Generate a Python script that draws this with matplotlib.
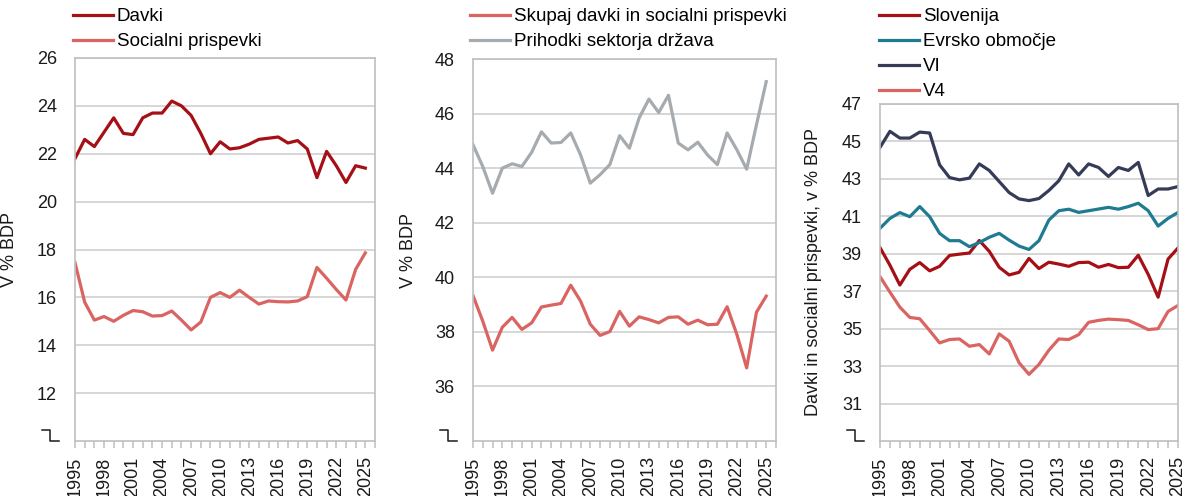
import matplotlib
matplotlib.use("Agg")
import matplotlib.pyplot as plt
from matplotlib.transforms import ScaledTranslation

plt.rcParams['font.family'] = ['Liberation Sans', 'DejaVu Sans']

# data
years = list(range(1995, 2026))

davki = [21.8, 22.6, 22.3, 22.9, 23.5, 22.85, 22.8, 23.5, 23.7, 23.7, 24.2,
         24.0, 23.6, 22.85, 22.0, 22.5, 22.2, 22.25, 22.4, 22.6, 22.65, 22.7,
         22.45, 22.55, 22.2, 21.0, 22.1, 21.5, 20.8, 21.5, 21.4]
socialni = [17.45, 15.8, 15.05, 15.2, 15.0, 15.25, 15.45, 15.4, 15.22, 15.24,
            15.43, 15.05, 14.64, 14.97, 16.0, 16.2, 16.0, 16.3, 16.0, 15.72,
            15.85, 15.82, 15.81, 15.85, 16.03, 17.25, 16.8, 16.33, 15.89,
            17.17, 17.86]

skupaj = [39.33, 38.39, 37.33, 38.17, 38.53, 38.09, 38.33, 38.91, 38.98, 39.04,
          39.71, 39.13, 38.28, 37.87, 38.01, 38.75, 38.21, 38.55, 38.45, 38.33,
          38.53, 38.55, 38.28, 38.43, 38.26, 38.28, 38.92, 37.9, 36.68, 38.72,
          39.31]
prihodki = [44.86, 44.06, 43.08, 44.0, 44.16, 44.06, 44.58, 45.33, 44.92,
            44.94, 45.29, 44.49, 43.45, 43.76, 44.13, 45.19, 44.73, 45.84,
            46.53, 46.04, 46.67, 44.92, 44.67, 44.95, 44.48, 44.13, 45.29,
            44.67, 43.96, 45.59, 47.17]

slovenija = skupaj
evrsko = [40.36, 40.89, 41.2, 40.98, 41.52, 40.98, 40.09, 39.7, 39.7, 39.38,
          39.6, 39.88, 40.09, 39.73, 39.41, 39.23, 39.7, 40.8, 41.3, 41.38,
          41.21, 41.3, 41.39, 41.48, 41.38, 41.52, 41.7, 41.3, 40.48, 40.89,
          41.21]
vi = [44.68, 45.54, 45.18, 45.18, 45.5, 45.45, 43.75, 43.07, 42.95, 43.04,
      43.8, 43.45, 42.86, 42.27, 41.93, 41.84, 41.95, 42.38, 42.9, 43.8, 43.21,
      43.8, 43.61, 43.13, 43.61, 43.45, 43.88, 42.11, 42.46, 42.46, 42.59]
v4 = [37.78, 36.95, 36.15, 35.6, 35.53, 34.9, 34.24, 34.42, 34.45, 34.06,
      34.15, 33.65, 34.72, 34.33, 33.18, 32.56, 33.09, 33.85, 34.45, 34.42,
      34.68, 35.34, 35.44, 35.51, 35.48, 35.44, 35.21, 34.95, 35.0, 35.92,
      36.24]

dark_red = '#A50F15'
light_red = '#DA6462'
grey = '#A6ABB0'
teal = '#1F7A92'
navy = '#363B57'
grid_col = '#D0D0D0'
txt = '#1a1a1a'

fig = plt.figure(figsize=(11.92, 4.96), dpi=100)
W, H = 1192, 496


def make_ax(left, right, top, bottom):
    return fig.add_axes([left / W, 1 - bottom / H, (right - left) / W, (bottom - top) / H])


def style(ax, ylim, yticks, xmax, ylabel):
    ax.set_ylim(*ylim)
    ax.set_yticks(yticks)
    ax.set_xlim(1995, xmax)
    xt = list(range(1995, xmax + 1))
    ax.set_xticks(xt)
    ax.set_xticklabels([str(y) if (y - 1995) % 3 == 0 else '' for y in xt],
                       rotation=90)
    ax.grid(axis='y', color=grid_col, lw=1.2)
    ax.set_axisbelow(True)
    for s in ax.spines.values():
        s.set_color('#BFBFBF')
        s.set_linewidth(1.2)
    ax.tick_params(axis='y', length=0, pad=13, labelsize=13, colors=txt)
    ax.tick_params(axis='x', length=5, width=1.1, color='#BFBFBF', pad=6,
                   labelsize=13, labelcolor=txt)
    ax.set_ylabel(ylabel, fontsize=13, color=txt)
    # axis break mark at the bottom of the value axis
    tr = fig.dpi_scale_trans + ScaledTranslation(0, 0, ax.transAxes)
    ax.plot([-0.33, -0.25, -0.25, -0.16], [0.11, 0.11, 0.0, 0.0],
            transform=tr, color=txt, lw=1.1, clip_on=False)


def legend(ax, x):
    ax.legend(loc='upper left', bbox_to_anchor=(x / W, 1 - 8 / H),
              bbox_transform=fig.transFigure, frameon=False, fontsize=13.5,
              handlelength=2.15, handletextpad=0.18, labelspacing=0.42,
              borderpad=0, borderaxespad=0)


# panel 1
ax1 = make_ax(75, 375, 58, 441)
ax1.plot(years, davki, color=dark_red, lw=2.3, label='Davki')
ax1.plot(years, socialni, color=light_red, lw=2.3, label='Socialni prispevki')
style(ax1, (10, 26), range(12, 27, 2), 2026, 'V % BDP')
ax1.yaxis.set_label_coords(-0.19, 0.5)
legend(ax1, 73)

# panel 2
ax2 = make_ax(473, 776, 59, 441)
ax2.plot(years, skupaj, color=light_red, lw=2.3, label='Skupaj davki in socialni prispevki')
ax2.plot(years, prihodki, color=grey, lw=2.3, label='Prihodki sektorja država')
style(ax2, (34, 48), range(36, 49, 2), 2026, 'V % BDP')
ax2.yaxis.set_label_coords(-0.185, 0.5)
legend(ax2, 470)

# panel 3
ax3 = make_ax(880, 1178, 104, 441)
ax3.plot(years, slovenija, color=dark_red, lw=2.3, label='Slovenija')
ax3.plot(years, evrsko, color=teal, lw=2.3, label='Evrsko območje')
ax3.plot(years, vi, color=navy, lw=2.3, label='VI')
ax3.plot(years, v4, color=light_red, lw=2.3, label='V4')
style(ax3, (29, 47), range(31, 48, 2), 2025, 'Davki in socialni prispevki, v % BDP')
ax3.yaxis.set_label_coords(-0.195, 0.5)
legend(ax3, 879)

fig.savefig('out.png', dpi=100)
